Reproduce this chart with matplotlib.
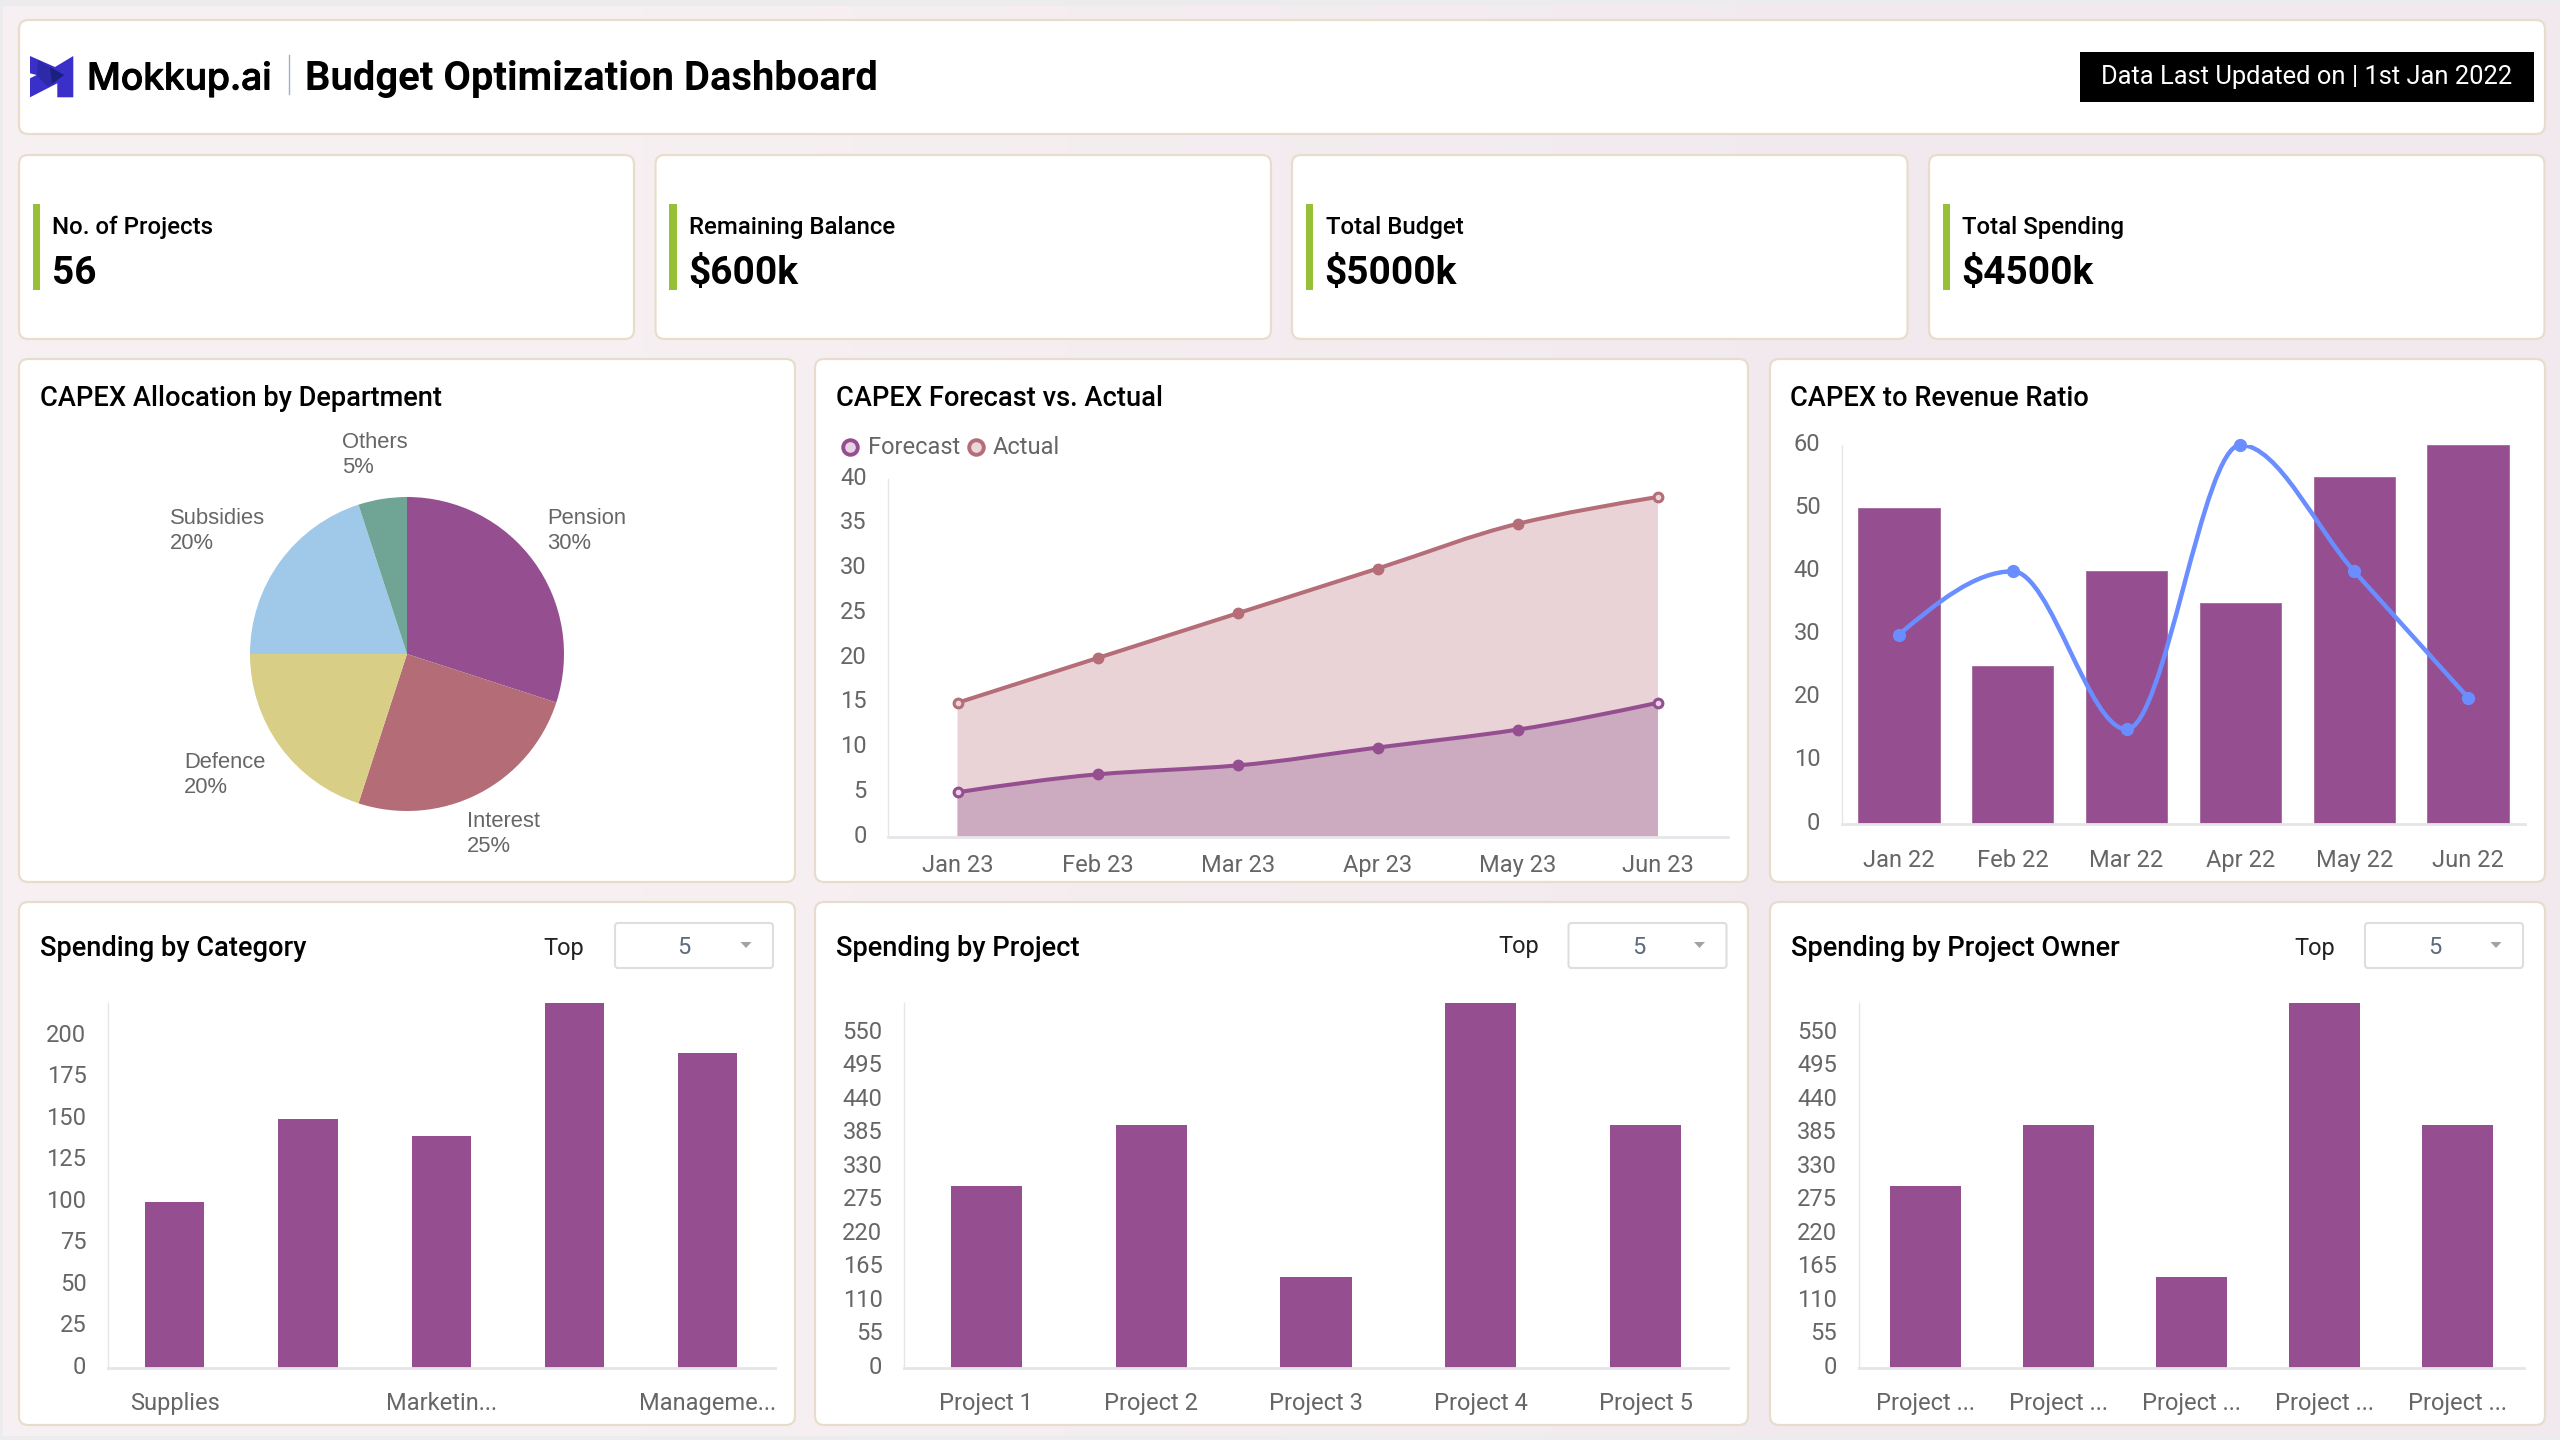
import matplotlib
matplotlib.use('Agg')
import matplotlib.pyplot as plt
import matplotlib.patheffects as pe
import numpy as np
from matplotlib.patches import FancyBboxPatch, PathPatch, Polygon, Rectangle
from matplotlib.path import Path
from matplotlib.transforms import ScaledTranslation

plt.rcParams['font.family'] = ['Roboto', 'DejaVu Sans']

# data
kpi_names = ['No. of Projects', 'Remaining Balance', 'Total Budget', 'Total Spending']
kpi_values = ['56', '$600k', '$5000k', '$4500k']

dept_names = ['Pension', 'Interest', 'Defence', 'Subsidies', 'Others']
dept_share = [30, 25, 20, 20, 5]

months_23 = ['Jan 23', 'Feb 23', 'Mar 23', 'Apr 23', 'May 23', 'Jun 23']
forecast = [5, 7, 8, 10, 12, 15]
actual = [15, 20, 25, 30, 35, 38]

months_22 = ['Jan 22', 'Feb 22', 'Mar 22', 'Apr 22', 'May 22', 'Jun 22']
capex_bars = [50, 25, 40, 35, 55, 60]
revenue_ratio = [30, 40, 15, 60, 40, 20]

category_labels = ['Supplies', '', 'Marketin...', '', 'Manageme...']
category_spend = [100, 150, 140, 220, 190]
category_ticks = [0, 25, 50, 75, 100, 125, 150, 175, 200]

project_labels = ['Project 1', 'Project 2', 'Project 3', 'Project 4', 'Project 5']
project_spend = [300, 400, 150, 600, 400]
owner_labels = ['Project ...', 'Project ...', 'Project ...', 'Project ...', 'Project ...']
owner_spend = [300, 400, 150, 600, 400]
project_ticks = [0, 55, 110, 165, 220, 275, 330, 385, 440, 495, 550]

PURPLE = '#954F91'
ROSE = '#B56D78'
BLUE = '#6A8DFF'
GREY = '#666666'
TITLE_SIZE = 19.6
W, H = 2560, 1440


def px_axes(x0, y0, x1, y1):
    # axes from pixel box, y measured from the top
    ax = fig.add_axes([x0 / W, 1 - y1 / H, (x1 - x0) / W, (y1 - y0) / H])
    ax.set_facecolor('none')
    return ax


def card(x0, y0, x1, y1):
    bg.add_patch(FancyBboxPatch((x0, y0), x1 - x0, y1 - y0, boxstyle='round,pad=0,rounding_size=9',
                                fc='white', ec='#E8DDCC', lw=1.6))


def style_axes(ax, pad_x, pad_y=15.5):
    for s in ['top', 'right']:
        ax.spines[s].set_visible(False)
    ax.spines['left'].set_color('#E6E6E6')
    ax.spines['left'].set_linewidth(1)
    ax.spines['bottom'].set_color('#E6E6EA')
    ax.spines['bottom'].set_linewidth(2)
    ax.tick_params(axis='x', length=0, labelsize=17, labelcolor=GREY, pad=pad_x)
    ax.tick_params(axis='y', length=0, labelsize=17, labelcolor=GREY, pad=pad_y)
    up = ScaledTranslation(0, 2.5 / 72, fig.dpi_scale_trans)
    for lab in ax.get_yticklabels():
        lab.set_transform(lab.get_transform() + up)


def smooth_path(xs, ys):
    # monotone cubic through the points, same look as the dashboard lines
    xs = np.array(xs, dtype=float)
    ys = np.array(ys, dtype=float)
    s = np.diff(ys) / np.diff(xs)
    t = np.zeros(len(xs))
    for i in range(1, len(xs) - 1):
        if s[i - 1] * s[i] > 0:
            t[i] = 2 * s[i - 1] * s[i] / (s[i - 1] + s[i])
    t[0] = (3 * s[0] - t[1]) / 2
    t[-1] = (3 * s[-1] - t[-2]) / 2
    verts = [(xs[0], ys[0])]
    codes = [Path.MOVETO]
    for i in range(len(xs) - 1):
        h = (xs[i + 1] - xs[i]) / 3
        verts += [(xs[i] + h, ys[i] + h * t[i]), (xs[i + 1] - h, ys[i + 1] - h * t[i + 1]), (xs[i + 1], ys[i + 1])]
        codes += [Path.CURVE4] * 3
    return verts, codes


def curve(ax, ys, color, fill=None, lw=2.9):
    xs = range(len(ys))
    verts, codes = smooth_path(xs, ys)
    if fill:
        v = verts + [(xs[-1], 0), (xs[0], 0), (xs[0], 0)]
        c = codes + [Path.LINETO, Path.LINETO, Path.CLOSEPOLY]
        ax.add_patch(PathPatch(Path(v, c), fc=fill, ec='none', zorder=1))
    else:
        ax.add_patch(PathPatch(Path(verts, codes), fc='none', ec=color, lw=lw, zorder=3))


def top_n_panel(ax_box, card_box, title, labels, values, ticks, ymax, bar_w, top_x, drop_box, five_x, tri_x, top_y=948):
    card(*card_box)
    bg.text(card_box[0] + 21, 948, title, fontsize=TITLE_SIZE, fontweight='medium', va='center', color='black')
    bg.text(top_x, top_y, 'Top', fontsize=17, va='center', color='#222222')
    bg.add_patch(FancyBboxPatch((drop_box[0], 923), drop_box[1] - drop_box[0], 45,
                                boxstyle='round,pad=0,rounding_size=3', fc='white', ec='#DCDEE1', lw=1.5))
    bg.text(five_x, 947, '5', fontsize=17, va='center', ha='center', color='#5C6B80')
    bg.add_patch(Polygon([(tri_x - 5.5, 942), (tri_x + 5.5, 942), (tri_x, 948)], fc='#A0A4AA', ec='none'))
    ax = px_axes(*ax_box)
    ax.bar(range(len(values)), values, width=bar_w, color=PURPLE)
    ax.set_xlim(-0.5, len(values) - 0.5)
    ax.set_ylim(0, ymax)
    ax.set_yticks(ticks)
    ax.set_xticks(range(len(values)))
    ax.set_xticklabels(labels)
    style_axes(ax, 17)
    return ax


fig = plt.figure(figsize=(25.6, 14.4), dpi=100, facecolor='#ECECEE')
bg = fig.add_axes([0, 0, 1, 1])
bg.imshow(np.array([[[247, 240, 242], [241, 233, 238]]], dtype=np.uint8), extent=(3, W, 1436, 6),
          aspect='auto', interpolation='bilinear')
bg.set_xlim(0, W)
bg.set_ylim(H, 0)
bg.axis('off')

# header
card(19, 20, 2545, 134)
bg.add_patch(Polygon([(30, 56), (55, 67), (73.3, 56), (73.3, 97.3), (57.3, 97.3), (57.3, 83.3), (30, 97.3),
                      (30, 78.3), (36.7, 75), (30, 73.3)], fc='#3A2FC8', ec='none'))
bg.add_patch(Polygon([(38, 60), (64, 75), (48, 87), (36.7, 75)], fc='#2C2AA8', ec='none'))
bg.add_patch(Polygon([(50, 67), (64, 75), (52, 84)], fc='#1D1F7E', ec='none'))
bg.text(87, 79, 'Mokkup.ai', fontsize=26.7, family='Inter', fontweight='medium', va='center', color='black',
        path_effects=[pe.withStroke(linewidth=0.7, foreground='black')])
bg.plot([288.7, 288.7], [55, 94], color='#9DB2C8', lw=1)
bg.text(305, 79, 'Budget Optimization Dashboard', fontsize=28.8, fontweight='bold', va='center', color='black')
bg.add_patch(Rectangle((2080, 52), 454, 50, fc='black', ec='none'))
bg.text(2307, 77, 'Data Last Updated on | 1st Jan 2022', fontsize=18.4, va='center', ha='center', color='white')

# KPI row
kpi_left = [19, 655.5, 1292, 1929]
kpi_right = [634, 1271, 1907.5, 2544.5]
for i in range(4):
    x0 = kpi_left[i]
    card(x0, 155, kpi_right[i], 339)
    bg.add_patch(Rectangle((x0 + 13.5, 203.5), 7.5, 86, fc='#96C136', ec='none'))
    bg.text(x0 + 33.5, 227.5, kpi_names[i], fontsize=17.3, fontweight='medium', va='center', color='black')
    bg.text(x0 + 32.5, 273, kpi_values[i], fontsize=28, fontweight='bold', va='center', color='black')

# pie
card(19, 359, 795, 882)
bg.text(40, 398, 'CAPEX Allocation by Department', fontsize=TITLE_SIZE, fontweight='medium', va='center', color='black')
ax = px_axes(250, 497, 564, 811)
ax.pie(dept_share, colors=[PURPLE, '#B46C76', '#D8CE85', '#A0C8E8', '#70A596'], startangle=90, counterclock=False)
ax.set_xlim(-1, 1)
ax.set_ylim(-1, 1)
pie_label_x = [547, 467, 184, 170, 342]
pie_label_y = [531, 834, 775, 531, 455]
for i in range(5):
    bg.text(pie_label_x[i], pie_label_y[i], dept_names[i] + '\n' + str(dept_share[i]) + '%', fontsize=15.8,
            family='Liberation Sans', va='center', color=GREY, linespacing=1.2)

# forecast vs actual
card(815, 359, 1748, 882)
bg.text(836, 398, 'CAPEX Forecast vs. Actual', fontsize=TITLE_SIZE, fontweight='medium', va='center', color='black')
bg.plot([850], [447], 'o', ms=10.5, mfc='#E6D3E4', mec=PURPLE, mew=2.8)
bg.text(868, 448, 'Forecast', fontsize=17, va='center', color=GREY)
bg.plot([975.7], [447], 'o', ms=10.5, mfc='#EAD5D8', mec=ROSE, mew=2.8)
bg.text(993, 448, 'Actual', fontsize=17, va='center', color=GREY)
ax = px_axes(887.5, 479, 1728, 837)
curve(ax, actual, ROSE, fill='#E9D3D7')
curve(ax, forecast, PURPLE, fill='#CCAABF')
curve(ax, actual, ROSE)
curve(ax, forecast, PURPLE)
ax.plot(range(6), actual, 'o', ms=7.5, color=ROSE, zorder=4, clip_on=False)
ax.plot(range(6), forecast, 'o', ms=7.5, color=PURPLE, zorder=4, clip_on=False)
ax.plot([0, 5], [actual[0], actual[5]], 'o', ms=3, color='#EAD5D8', zorder=5)
ax.plot([0, 5], [forecast[0], forecast[5]], 'o', ms=3, color='#E6D3E4', zorder=5)
ax.set_xlim(-0.5, 5.5)
ax.set_ylim(0, 40)
ax.set_yticks(range(0, 41, 5))
ax.set_xticks(range(6))
ax.set_xticklabels(months_23)
style_axes(ax, 12.5, 15)

# capex to revenue
card(1770, 359, 2545, 882)
bg.text(1790.5, 398, 'CAPEX to Revenue Ratio', fontsize=TITLE_SIZE, fontweight='medium', va='center', color='black')
ax = px_axes(1842, 445, 2525, 824)
ax.bar(range(6), capex_bars, width=0.715, color=PURPLE, edgecolor='#A9719F', linewidth=0.7)
curve(ax, revenue_ratio, BLUE, lw=3.2)
ax.plot(range(6), revenue_ratio, 'o', ms=8.5, color=BLUE, zorder=4, clip_on=False)
ax.set_xlim(-0.5, 5.5)
ax.set_ylim(0, 60)
ax.set_yticks(range(0, 61, 10))
ax.set_xticks(range(6))
ax.set_xticklabels(months_22)
style_axes(ax, 18)

# bottom row
top_n_panel((108, 1003, 774.5, 1368), (19, 902, 795, 1425), 'Spending by Category', category_labels,
            category_spend, category_ticks, 220, 0.444, 543.5, (615, 773), 684, 746)
top_n_panel((904, 1003, 1728, 1368), (815, 902, 1748, 1425), 'Spending by Project', project_labels,
            project_spend, project_ticks, 600, 0.431, 1498, (1568.5, 1726.5), 1639, 1699.5, top_y=946)
top_n_panel((1858.5, 1003, 2524, 1368), (1770, 902, 2545, 1425), 'Spending by Project Owner', owner_labels,
            owner_spend, project_ticks, 600, 0.533, 2294, (2365, 2523), 2434.5, 2496)

fig.savefig('out.png', dpi=100)
